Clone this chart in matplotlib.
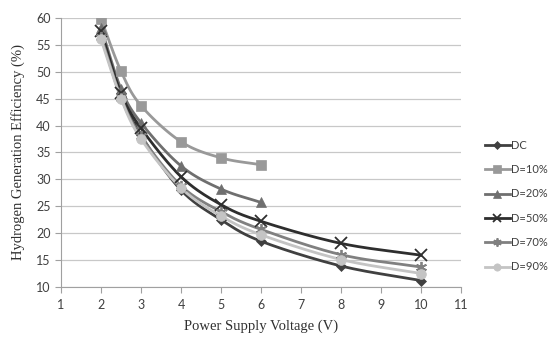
import numpy as np
import matplotlib
matplotlib.use("Agg")
import matplotlib.pyplot as plt
from matplotlib.lines import Line2D

# voltages (V)
v_full = [2, 2.5, 3, 4, 5, 6, 8, 10]
v_short = [2, 2.5, 3, 4, 5, 6]

# hydrogen generation efficiency (%)
eff_dc = [57.0, 46.0, 38.2, 28.0, 22.5, 18.5, 13.9, 11.2]
eff_d10 = [59.8, 50.1, 43.7, 37.0, 34.0, 32.7]
eff_d20 = [58.2, 46.8, 40.5, 32.5, 28.2, 25.7]
eff_d50 = [57.5, 46.0, 39.5, 30.5, 25.3, 22.2, 18.1, 15.9]
eff_d70 = [56.5, 45.2, 38.0, 28.8, 24.0, 20.7, 16.0, 13.7]
eff_d90 = [56.0, 45.0, 37.5, 28.4, 23.2, 19.7, 15.1, 12.5]

labels = ["DC", "D=10%", "D=20%", "D=50%", "D=70%", "D=90%"]


def smooth(x, y, n=20):
    # Catmull-Rom style curve through the points, like Excel's smoothed line
    x = np.asarray(x, float)
    y = np.asarray(y, float)
    px = np.concatenate([[2 * x[0] - x[1]], x, [2 * x[-1] - x[-2]]])
    py = np.concatenate([[2 * y[0] - y[1]], y, [2 * y[-1] - y[-2]]])
    xs, ys = [], []
    t = np.linspace(0, 1, n)
    for i in range(1, len(px) - 2):
        p0, p1, p2, p3 = [np.array([px[j], py[j]]) for j in range(i - 1, i + 3)]
        b1 = p1 + (p2 - p0) / 6
        b2 = p2 - (p3 - p1) / 6
        pts = ((1 - t) ** 3)[:, None] * p1 + (3 * (1 - t) ** 2 * t)[:, None] * b1 \
            + (3 * (1 - t) * t ** 2)[:, None] * b2 + (t ** 3)[:, None] * p2
        xs.extend(pts[:, 0])
        ys.extend(pts[:, 1])
    return xs, ys


series = [
    (v_full, eff_dc, "#404040", "D", 5),
    (v_short, eff_d10, "#999999", "s", 7),
    (v_short, eff_d20, "#6f6f6f", "^", 7),
    (v_full, eff_d50, "#2e2e2e", "x", 8),
    (v_full, eff_d70, "#808080", (6, 2, 0), 8),
    (v_full, eff_d90, "#c4c4c4", "o", 7),
]

fig = plt.figure(figsize=(5.5, 3.38), dpi=100)
ax = fig.add_axes([0.111, 0.151, 0.727, 0.796])

handles = []
for (x, y, c, m, ms), lab in zip(series, labels):
    sx, sy = smooth(x, y)
    ax.plot(sx, sy, color=c, lw=2.0, zorder=3)
    mew = 1.3 if m == "x" or isinstance(m, tuple) else 0.5
    ax.plot(x, y, ls="none", marker=m, ms=ms, color=c, mec=c, mew=mew, zorder=4)
    handles.append(Line2D([], [], color=c, lw=2.0, marker=m, ms=ms * 0.75, mec=c, mew=mew))

ax.set_xlim(1, 11)
ax.set_ylim(10, 60)
ax.set_xticks(range(1, 12))
ax.set_yticks(range(10, 61, 5))
ax.grid(axis="y", color="#c8c8c8", lw=0.9)
ax.set_axisbelow(True)
for s in ("top", "right"):
    ax.spines[s].set_visible(False)
for s in ("left", "bottom"):
    ax.spines[s].set_color("#a0a0a0")
ax.tick_params(axis="both", colors="#a0a0a0", labelcolor="#404040", labelsize=9, length=4, width=0.8)
ax.tick_params(axis="x", pad=5)
for lbl in ax.get_xticklabels() + ax.get_yticklabels():
    lbl.set_family("Lato")

ax.set_xlabel("Power Supply Voltage (V)", family="Liberation Serif", fontsize=10.5, color="#303030", labelpad=6)
ax.set_ylabel("Hydrogen Generation Efficiency (%)", family="Liberation Serif", fontsize=10.5, color="#303030", labelpad=8)

fig.legend(handles, labels, loc="upper left", bbox_to_anchor=(0.878, 0.593), frameon=False,
           prop={"family": "Lato", "size": 8}, labelspacing=1.2, handlelength=2.2,
           handletextpad=0.1, borderaxespad=0, borderpad=0.2, labelcolor="#404040")

fig.savefig("out.png", dpi=100)
